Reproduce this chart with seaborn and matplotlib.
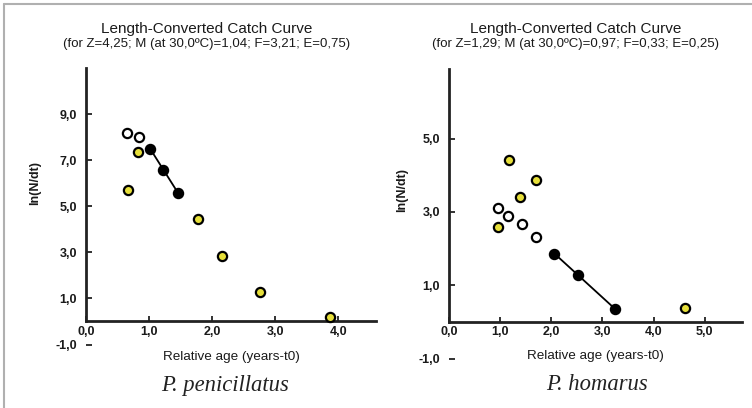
import numpy as np
import pandas as pd
import matplotlib
matplotlib.use("Agg")
import matplotlib.pyplot as plt
from matplotlib.lines import Line2D
from matplotlib.ticker import FuncFormatter
import seaborn as sns

# ---------------- data ----------------
# P. penicillatus
pen_open_x = [0.65, 0.84]
pen_open_y = [8.20, 8.00]
pen_yel_x = [0.67, 0.83, 1.78, 2.16, 2.76, 3.87]
pen_yel_y = [5.72, 7.37, 4.43, 2.83, 1.27, 0.21]
pen_blk_x = [1.02, 1.22, 1.46]
pen_blk_y = [7.50, 6.59, 5.59]

# P. homarus
hom_open_x = [0.96, 1.16, 1.42, 1.71]
hom_open_y = [3.10, 2.90, 2.66, 2.32]
hom_yel_x = [0.96, 1.17, 1.39, 1.71, 4.62]
hom_yel_y = [2.60, 4.41, 3.41, 3.88, 0.37]
hom_blk_x = [2.06, 2.53, 3.24]
hom_blk_y = [1.86, 1.28, 0.36]

titles = ["Length-Converted Catch Curve", "Length-Converted Catch Curve"]
subtitles = ["(for Z=4,25; M (at 30,0\u00baC)=1,04; F=3,21; E=0,75)",
             "(for Z=1,29; M (at 30,0\u00baC)=0,97; F=0,33; E=0,25)"]
species = ["P. penicillatus", "P. homarus"]
pen_xticks = [0, 1, 2, 3, 4]
pen_yticks = [-1, 1, 3, 5, 7, 9]
hom_xticks = [0, 1, 2, 3, 4, 5]
hom_yticks = [-1, 1, 3, 5]

# ---------------- style ----------------
sns.set_style("white")
plt.rcParams["font.family"] = ["Liberation Sans", "DejaVu Sans"]

W, H = 752, 408
fig = plt.figure(figsize=(W / 100, H / 100), dpi=100)
fig.patch.set_facecolor("white")

YELLOW = "#E6DF3A"
TXT = "#1a1a1a"


def px_axes(x0, x1, ytop, ybot):
    return fig.add_axes([x0 / W, 1 - ybot / H, (x1 - x0) / W, (ybot - ytop) / H])


fmt = FuncFormatter(lambda v, p: f"{v:.1f}".replace(".", ","))


def draw_panel(ax, ox, oy, yx, yy, bx, by, xlim, ylim, xt, yt):
    df_y = pd.DataFrame({"x": yx, "y": yy})
    df_o = pd.DataFrame({"x": ox, "y": oy})
    df_b = pd.DataFrame({"x": bx, "y": by})
    kw = dict(s=44, edgecolor="black", linewidth=1.6, ax=ax, legend=False,
              clip_on=False, zorder=4)
    sns.scatterplot(data=df_y, x="x", y="y", color=YELLOW, **kw)
    sns.scatterplot(data=df_o, x="x", y="y", color="white", **kw)
    # regression line over the black (used) points
    k, b = np.polyfit(bx, by, 1)
    xs = np.array([min(bx), max(bx)])
    ax.plot(xs, k * xs + b, color="black", lw=1.3, zorder=3)
    sns.scatterplot(data=df_b, x="x", y="y", color="black", **kw)

    ax.set_xlim(*xlim)
    ax.set_ylim(*ylim)
    ax.set_xticks(xt)
    ax.set_yticks(yt)
    ax.xaxis.set_major_formatter(fmt)
    ax.yaxis.set_major_formatter(fmt)
    ax.set_facecolor("none")
    for s in ["top", "right"]:
        ax.spines[s].set_visible(False)
    ax.spines["bottom"].set_position(("data", 0))
    ax.spines["left"].set_bounds(0, ylim[1])
    for s in ["bottom", "left"]:
        ax.spines[s].set_linewidth(2)
        ax.spines[s].set_color("#222222")
    ax.tick_params(axis="y", direction="in", length=4.5, width=1.3, pad=6.5,
                   labelsize=9, colors="#222222", labelcolor=TXT, left=True)
    ax.tick_params(axis="x", direction="in", length=3.5, width=1.3, pad=3,
                   labelsize=9, colors="#222222", labelcolor=TXT, bottom=True)
    for lab in ax.get_xticklabels() + ax.get_yticklabels():
        lab.set_fontweight("bold")
    ax.set_xlabel("")
    ax.set_ylabel("")
    ax.grid(False)


# left panel
axL = px_axes(86, 376, 68, 344.5)
draw_panel(axL, pen_open_x, pen_open_y, pen_yel_x, pen_yel_y, pen_blk_x, pen_blk_y,
           (0, 4.6), (-1, 11), pen_xticks, pen_yticks)
# right panel
axR = px_axes(449, 742, 69, 358.6)
draw_panel(axR, hom_open_x, hom_open_y, hom_yel_x, hom_yel_y, hom_blk_x, hom_blk_y,
           (0, 5.73), (-1, 6.9), hom_xticks, hom_yticks)

# axis labels
fig.text(231 / W, 1 - 357 / H, "Relative age (years-t0)", ha="center", va="center",
         fontsize=9.7, color=TXT)
fig.text(595 / W, 1 - 356 / H, "Relative age (years-t0)", ha="center", va="center",
         fontsize=9.7, color=TXT)
fig.text(35 / W, 1 - 183 / H, "ln(N/dt)", ha="center", va="center", rotation=90,
         fontsize=9, color=TXT, fontweight="bold")
fig.text(402 / W, 1 - 190 / H, "ln(N/dt)", ha="center", va="center", rotation=90,
         fontsize=9, color=TXT, fontweight="bold")

# titles
for cx, t, st in [(207, titles[0], subtitles[0]), (576, titles[1], subtitles[1])]:
    fig.text(cx / W, 1 - 29 / H, t, ha="center", va="center", fontsize=11, color=TXT)
    fig.text(cx / W, 1 - 43.5 / H, st, ha="center", va="center", fontsize=9.5, color=TXT)

# species names
for cx, sp in [(225, species[0]), (597, species[1])]:
    fig.text(cx / W, 1 - 385 / H, sp, ha="center", va="center", fontsize=16.3,
             style="italic", family=["Liberation Serif", "DejaVu Serif"], color="#222222")

# light frame
fig.add_artist(Line2D([3.5 / W, 1], [1 - 4 / H, 1 - 4 / H], transform=fig.transFigure,
                      color="#b0b0b0", lw=1.5))
fig.add_artist(Line2D([3.5 / W, 3.5 / W], [0, 1 - 4 / H], transform=fig.transFigure,
                      color="#b0b0b0", lw=1.5))

fig.savefig("out.png", dpi=100, facecolor="white")
